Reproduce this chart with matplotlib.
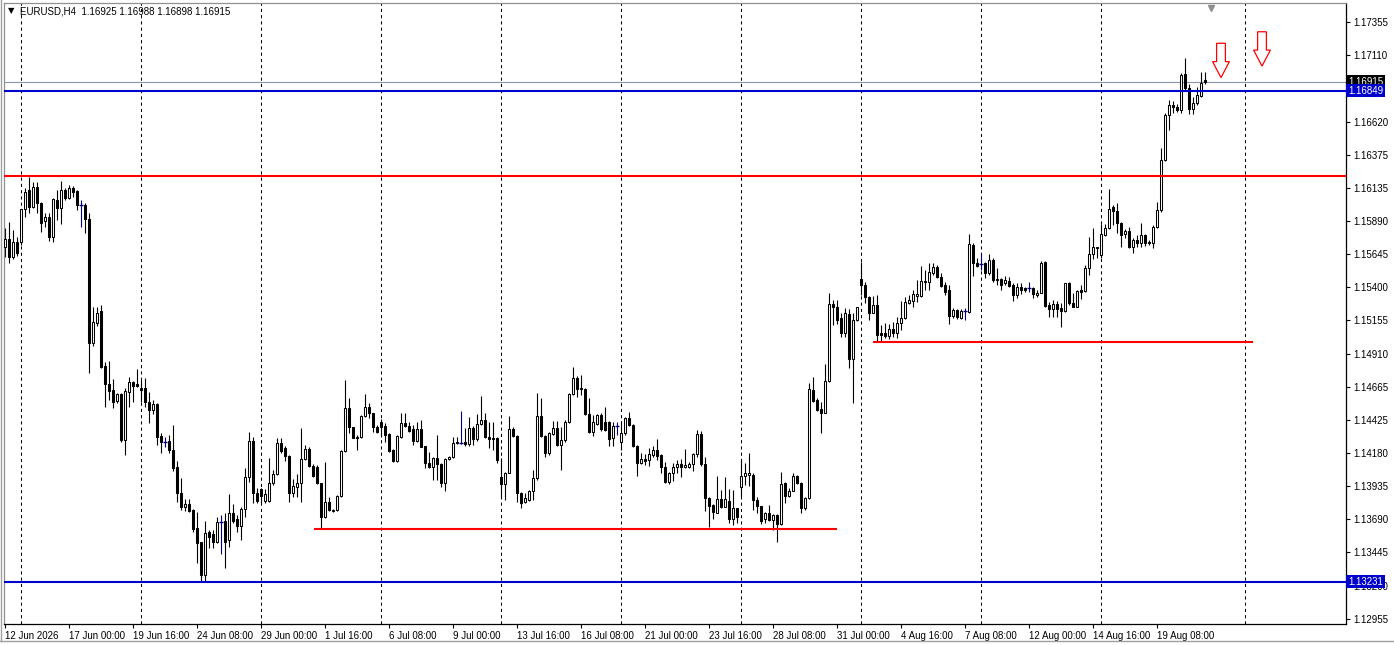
#!/usr/bin/env python

# Libraries

import numpy as np
import matplotlib
matplotlib.use("Agg")
import matplotlib.pyplot as plt
from matplotlib.patches import Polygon
from matplotlib.lines import Line2D

plt.rcParams["font.family"] = ["Liberation Sans", "DejaVu Sans"]

# Data: EURUSD H4 candles, prices in points (1e-5), bar 0 = 12 Jun 08:00

opens = [
    115699, 115753, 115621, 115736, 115736, 115975, 116117, 115994, 116141, 116023,
    115890, 115920, 115773, 116043, 115982, 116117, 116056, 116129, 116112, 116006,
    116006, 115901, 114991, 115139, 115223, 114820, 114685, 114643, 114562, 114613,
    114274, 114630, 114702, 114687, 114655, 114655, 114552, 114495, 114540, 114304,
    114257, 114269, 114201, 114073, 113881, 113783, 113802, 113758, 113623, 113525,
    113279, 113598, 113581, 113525, 113668, 113677, 113537, 113734, 113690, 113640,
    113763, 114004, 114267, 113886, 113913, 113825, 113825, 113955, 114024, 114254,
    114213, 114156, 113886, 113930, 113955, 114132, 114206, 114083, 114077, 113955,
    113705, 113820, 113751, 113758, 113862, 114195, 114508, 114368, 114299, 114294,
    114451, 114515, 114471, 114368, 114409, 114377, 114316, 114201, 114122, 114294,
    114402, 114377, 114353, 114269, 114353, 114230, 114103, 114073, 114139, 114095,
    113955, 114132, 114147, 114262, 114254, 114262, 114245, 114360, 114279, 114392,
    114422, 114299, 114289, 114289, 114004, 113950, 114033, 114353, 114304, 113881,
    113820, 113832, 113900, 113992, 114451, 114304, 114181, 114318, 114360, 114237,
    114274, 114409, 114613, 114729, 114655, 114648, 114466, 114335, 114392, 114458,
    114409, 114409, 114287, 114377, 114262, 114324, 114434, 114385, 114230, 114107,
    114134, 114127, 114164, 114201, 114164, 114073, 113967, 114033, 114073, 114097,
    114073, 114077, 114097, 114171, 114318, 114097, 113845, 113795, 113738, 113837,
    113783, 113827, 113690, 113771, 113930, 114009, 114016, 114016, 113832, 113790,
    113690, 113734, 113685, 113721, 113655, 113955, 113862, 113900, 114009, 113955,
    113771, 113845, 114643, 114569, 114500, 114475, 114711, 115277, 115252, 115171,
    115065, 115203, 114869, 115159, 115459, 115417, 115326, 115212, 115269, 115061,
    115065, 115041, 115090, 115065, 115134, 115171, 115286, 115301, 115338, 115338,
    115441, 115441, 115507, 115551, 115478, 115417, 115380, 115188, 115232, 115171,
    115227, 115220, 115711, 115581, 115571, 115577, 115503, 115601, 115461, 115459,
    115429, 115448, 115417, 115343, 115404, 115392, 115392, 115392, 115343, 115360,
    115586, 115269, 115238, 115277, 115245, 115227, 115429, 115286, 115257, 115380,
    115375, 115540, 115645, 115694, 115638, 115785, 115834, 115989, 115964, 115871,
    115792, 115815, 115699, 115748, 115728, 115785, 115736, 115724, 115842, 115969,
    116338, 116669, 116743, 116726, 116706, 116972, 116866, 116712, 116756, 116810,
    116925,
]
highs = [
    115834, 115883, 115822, 115773, 115977, 116129, 116210, 116178, 116178, 116030,
    115945, 115945, 116056, 116117, 116185, 116129, 116154, 116146, 116117, 116043,
    116019, 115947, 115257, 115257, 115269, 114851, 114859, 114722, 114623, 114623,
    114655, 114736, 114711, 114795, 114716, 114729, 114630, 114569, 114549, 114324,
    114299, 114311, 114385, 114119, 113992, 113837, 113837, 113763, 113746, 113525,
    113679, 113611, 113611, 113709, 113721, 113734, 113876, 113802, 113721, 113783,
    114066, 114333, 114299, 113918, 113918, 113913, 114139, 114053, 114287, 114287,
    114230, 114164, 113985, 114024, 114360, 114237, 114220, 114097, 114090, 113960,
    114110, 113852, 113763, 113869, 114201, 114716, 114582, 114372, 114311, 114458,
    114613, 114545, 114475, 114385, 114427, 114397, 114324, 114206, 114311, 114471,
    114475, 114409, 114385, 114409, 114422, 114230, 114188, 114147, 114311, 114103,
    114139, 114156, 114299, 114299, 114490, 114360, 114446, 114377, 114466, 114599,
    114471, 114409, 114409, 114299, 114139, 114041, 114451, 114372, 114309, 113893,
    113881, 113906, 114053, 114623, 114582, 114311, 114335, 114416, 114416, 114372,
    114422, 114623, 114814, 114746, 114753, 114655, 114582, 114458, 114466, 114475,
    114520, 114416, 114409, 114409, 114416, 114442, 114483, 114392, 114237, 114181,
    114171, 114213, 114230, 114279, 114171, 114114, 114041, 114107, 114127, 114132,
    114206, 114114, 114176, 114348, 114343, 114147, 113856, 113802, 114009, 113906,
    114004, 113911, 113906, 113775, 114132, 114103, 114176, 114029, 113856, 113790,
    113746, 113795, 113729, 113729, 114041, 113967, 113918, 114029, 114016, 113967,
    113853, 114697, 114741, 114582, 114557, 114834, 115355, 115306, 115306, 115208,
    115245, 115238, 115212, 115257, 115588, 115441, 115336, 115336, 115343, 115122,
    115134, 115129, 115146, 115183, 115301, 115330, 115343, 115380, 115453, 115557,
    115527, 115581, 115581, 115564, 115507, 115441, 115417, 115245, 115238, 115238,
    115245, 115792, 115724, 115613, 115655, 115588, 115645, 115613, 115540, 115466,
    115483, 115478, 115434, 115434, 115434, 115404, 115441, 115400, 115380, 115596,
    115596, 115294, 115306, 115301, 115282, 115434, 115441, 115355, 115380, 115417,
    115564, 115773, 115834, 115699, 115866, 115866, 116122, 116006, 116019, 115883,
    115827, 115846, 115761, 115785, 115871, 115792, 115748, 115859, 116030, 116424,
    116682, 116780, 116775, 116751, 116981, 117087, 116898, 116804, 116878, 116989,
    116988,
]
lows = [
    115625, 115581, 115606, 115630, 115711, 115920, 115949, 115982, 115949, 115809,
    115846, 115743, 115736, 115896, 115866, 116043, 116048, 116063, 115969, 115842,
    115798, 114770, 114967, 115114, 114803, 114520, 114569, 114508, 114549, 114262,
    114164, 114515, 114557, 114667, 114557, 114520, 114402, 114464, 114237, 114181,
    114220, 114176, 114046, 113820, 113758, 113753, 113746, 113598, 113370, 113237,
    113237, 113476, 113476, 113517, 113434, 113329, 113488, 113660, 113598, 113537,
    113709, 113967, 113810, 113808, 113808, 113808, 113817, 113942, 114016, 114176,
    114122, 113820, 113856, 113853, 113820, 114127, 114073, 114004, 113950, 113616,
    113699, 113749, 113746, 113753, 113856, 114188, 114324, 114287, 114201, 114287,
    114446, 114436, 114335, 114328, 114299, 114262, 114188, 114114, 114114, 114287,
    114368, 114335, 114237, 114262, 114220, 114066, 114066, 113979, 113979, 113926,
    113900, 114127, 114139, 114245, 114245, 114230, 114230, 114237, 114269, 114385,
    114287, 114213, 114201, 114103, 113845, 113832, 114029, 114299, 113820, 113771,
    113808, 113827, 113832, 113979, 114299, 114151, 114164, 114311, 114230, 114053,
    114262, 114402, 114606, 114593, 114606, 114458, 114328, 114304, 114385, 114343,
    114343, 114230, 114230, 114311, 114201, 114311, 114377, 114225, 114009, 114097,
    114090, 114083, 114151, 114127, 114033, 113955, 113950, 113974, 114033, 113999,
    114066, 114066, 114048, 114151, 114083, 113753, 113635, 113690, 113734, 113771,
    113778, 113665, 113648, 113665, 113853, 113942, 113935, 113758, 113734, 113655,
    113665, 113679, 113611, 113525, 113648, 113812, 113853, 113900, 113950, 113738,
    113758, 113837, 114557, 114490, 114328, 114471, 114704, 115122, 115129, 115031,
    115031, 114803, 114545, 115153, 115343, 115286, 115159, 115208, 114999, 114999,
    115024, 115016, 115036, 115024, 115085, 115164, 115277, 115252, 115294, 115330,
    115380, 115380, 115490, 115466, 115400, 115343, 115129, 115171, 115164, 115164,
    115159, 115212, 115483, 115551, 115527, 115466, 115490, 115441, 115417, 115380,
    115417, 115400, 115301, 115319, 115350, 115367, 115367, 115319, 115330, 115355,
    115257, 115179, 115183, 115183, 115105, 115220, 115269, 115252, 115252, 115311,
    115367, 115490, 115606, 115616, 115616, 115778, 115827, 115859, 115798, 115699,
    115761, 115687, 115650, 115699, 115699, 115704, 115711, 115687, 115834, 115957,
    116333, 116559, 116682, 116694, 116682, 116854, 116677, 116677, 116743, 116804,
    116898,
]
closes = [
    115753, 115621, 115736, 115655, 115975, 116104, 115994, 116141, 116019, 115876,
    115920, 115773, 116048, 115982, 116117, 116056, 116129, 116104, 116006, 116006,
    115901, 114991, 115144, 115212, 114814, 114685, 114638, 114557, 114611, 114274,
    114638, 114702, 114672, 114672, 114643, 114552, 114495, 114537, 114299, 114262,
    114257, 114201, 114070, 113881, 113783, 113802, 113753, 113616, 113517, 113279,
    113587, 113562, 113525, 113668, 113668, 113525, 113734, 113679, 113643, 113763,
    114004, 114267, 113886, 113827, 113862, 113876, 113955, 114024, 114254, 114195,
    114156, 113881, 113935, 113955, 114132, 114206, 114083, 114009, 113955, 113705,
    113815, 113758, 113758, 113862, 114195, 114508, 114368, 114291, 114291, 114451,
    114515, 114471, 114368, 114335, 114372, 114311, 114195, 114122, 114304, 114402,
    114377, 114343, 114269, 114353, 114225, 114103, 114073, 114139, 114095, 113955,
    114132, 114147, 114250, 114250, 114254, 114245, 114360, 114279, 114392, 114422,
    114294, 114282, 114279, 114127, 113950, 114033, 114353, 114304, 113881, 113808,
    113847, 113900, 113992, 114451, 114304, 114181, 114328, 114360, 114237, 114274,
    114409, 114613, 114729, 114648, 114648, 114466, 114335, 114409, 114458, 114353,
    114348, 114279, 114377, 114377, 114324, 114434, 114385, 114230, 114107, 114132,
    114122, 114171, 114201, 114156, 114073, 113967, 114029, 114077, 114097, 114073,
    114090, 114097, 114171, 114318, 114097, 113845, 113788, 113746, 113837, 113783,
    113837, 113690, 113771, 113705, 114009, 114029, 114029, 113832, 113790, 113679,
    113734, 113685, 113721, 113655, 113950, 113862, 113900, 114009, 113955, 113771,
    113845, 114648, 114564, 114495, 114471, 114711, 115277, 115252, 115159, 115065,
    115208, 114869, 115159, 115252, 115417, 115326, 115212, 115269, 115048, 115048,
    115041, 115090, 115065, 115134, 115171, 115294, 115306, 115350, 115350, 115448,
    115448, 115515, 115551, 115478, 115409, 115367, 115188, 115232, 115179, 115227,
    115227, 115719, 115577, 115557, 115571, 115503, 115601, 115453, 115457, 115417,
    115453, 115409, 115343, 115400, 115380, 115380, 115392, 115348, 115360, 115577,
    115262, 115238, 115277, 115240, 115227, 115429, 115282, 115257, 115372, 115367,
    115540, 115645, 115694, 115687, 115792, 115834, 115975, 115964, 115871, 115785,
    115815, 115699, 115748, 115728, 115785, 115728, 115724, 115842, 115969, 116338,
    116669, 116743, 116726, 116706, 116964, 116866, 116712, 116760, 116817, 116908,
    116915,
]

# price scale and time labels

price_ticks = [1.17355, 1.17110, 1.16865, 1.16620, 1.16375, 1.16135, 1.15890,
               1.15645, 1.15400, 1.15155, 1.14910, 1.14665, 1.14425, 1.14180,
               1.13935, 1.13690, 1.13445, 1.13200, 1.12955]
hidden_ticks = [1.16865]  # covered by the price tags on the scale
time_labels = ["12 Jun 2026", "17 Jun 00:00", "19 Jun 16:00", "24 Jun 08:00",
               "29 Jun 00:00", "1 Jul 16:00", "6 Jul 08:00", "9 Jul 00:00",
               "13 Jul 16:00", "16 Jul 08:00", "21 Jul 00:00", "23 Jul 16:00",
               "28 Jul 08:00", "31 Jul 00:00", "4 Aug 16:00", "7 Aug 08:00",
               "12 Aug 00:00", "14 Aug 16:00", "19 Aug 08:00"]
time_label_bars = [0, 16, 32, 48, 64, 80, 96, 112, 128, 144, 160, 176,
                   192, 208, 224, 240, 256, 272, 288]
week_start_bars = [4, 34, 64, 94, 124, 154, 184, 214, 244, 274, 310]

# drawn levels (price, and bar span for the short ones)

blue_levels = [1.16849, 1.13231]
red_level_full = 1.16220
red_segments = [(1.13618, 77.25, 208.0), (1.14996, 217.0, 312.0)]
arrow_bars = [304.0, 314.25]
arrow_tips = [1.16945, 1.17030]

o = np.array(opens) / 1e5
h = np.array(highs) / 1e5
l = np.array(lows) / 1e5
c = np.array(closes) / 1e5
idx = np.arange(len(o))

bull = c > o
bear = c < o
doji = c == o

# figure

fig = plt.figure(figsize=(13.94, 6.45), dpi=100)
ax = fig.add_axes([4 / 1394, 1 - 624 / 645, 1342 / 1394, 621 / 645])
ax.set_xlim(-0.25, 335.25)
ax.set_ylim(1.12918, 1.17495)

# weekly dashed grid

for b in week_start_bars:
    ax.axvline(b, color="black", linestyle=(0, (3, 3)), linewidth=0.75, zorder=1)

# candles

ax.vlines(idx[~doji], l[~doji], h[~doji], color="black", linewidth=0.8, zorder=2)
ax.vlines(idx[doji], l[doji], h[doji], color="#000080", linewidth=0.8, zorder=2)
ax.bar(idx[bull], (c - o)[bull], bottom=o[bull], width=0.55,
       facecolor="white", edgecolor="black", linewidth=0.75, zorder=3)
ax.bar(idx[bear], (o - c)[bear], bottom=c[bear], width=0.55,
       facecolor="black", edgecolor="black", linewidth=0.75, zorder=3)
ax.hlines(o[doji], idx[doji] - 0.45, idx[doji] + 0.45, color="#000080",
          linewidth=1.0, zorder=3)

# levels

ax.axhline(c[-1], color="#8595a5", linewidth=0.8, zorder=1.5)
for lv in blue_levels:
    ax.axhline(lv, color="#0000cc", linewidth=1.5, zorder=4)
ax.axhline(red_level_full, color="red", linewidth=1.5, zorder=4)
for lv, x0, x1 in red_segments:
    ax.hlines(lv, x0, x1, color="red", linewidth=1.5, zorder=4)

# hollow down arrows

shaft_len, head_len = 0.00135, 0.00118
shaft_hw, head_hw = 1.1, 2.1
for xb, tip in zip(arrow_bars, arrow_tips):
    neck = tip + head_len
    top = neck + shaft_len
    pts = [(xb - shaft_hw, top), (xb + shaft_hw, top), (xb + shaft_hw, neck),
           (xb + head_hw, neck), (xb, tip), (xb - head_hw, neck),
           (xb - shaft_hw, neck)]
    ax.add_patch(Polygon(pts, closed=True, facecolor="none", edgecolor="red",
                         linewidth=0.9, zorder=5))

# chart shift marker
ax.plot([301.5], [0.992], marker="v", markersize=5, color="#909090",
        transform=ax.get_xaxis_transform(), clip_on=False, zorder=6)

# axes styling

ax.yaxis.tick_right()
ax.set_yticks(price_ticks)
ax.set_yticklabels(["" if p in hidden_ticks else f"{p:.5f}" for p in price_ticks])
ax.tick_params(axis="y", labelsize=7, length=3, width=0.8, pad=2, direction="out")
ax.set_xticks(time_label_bars)
ax.set_xticklabels(time_labels)
for lbl in ax.get_xticklabels():
    lbl.set_ha("left")
ax.tick_params(axis="x", labelsize=7, length=3, width=0.8, pad=2, direction="out")

for side in ["right", "bottom"]:
    ax.spines[side].set_color("black")
    ax.spines[side].set_linewidth(0.9)
for side in ["left", "top"]:
    ax.spines[side].set_color("#909090")
    ax.spines[side].set_linewidth(0.9)

# price tags on the right scale

ytr = ax.get_yaxis_transform()
tag_x = 1.0 + 2 / 1342
ax.text(tag_x, c[-1], f"{c[-1]:.5f}", transform=ytr, fontsize=7, color="white",
        ha="left", va="center", clip_on=False, zorder=10,
        bbox=dict(boxstyle="square,pad=0.18", facecolor="black", edgecolor="none"))
for lv in blue_levels:
    ax.text(tag_x, lv, f"{lv:.5f}", transform=ytr, fontsize=7, color="white",
            ha="left", va="center", clip_on=False, zorder=11,
            bbox=dict(boxstyle="square,pad=0.18", facecolor="#0000cc", edgecolor="none"))

# header

fig.text(8 / 1394, 1 - 11 / 645, "\u25BC", fontsize=6, color="black",
         ha="left", va="center", family="DejaVu Sans")
fig.text(20 / 1394, 1 - 11 / 645,
         f"EURUSD,H4  {o[-1]:.5f} {h[-1]:.5f} {l[-1]:.5f} {c[-1]:.5f}",
         fontsize=7, color="black", ha="left", va="center")

# window frame
fig.add_artist(Line2D([0, 1], [1 - 641 / 645] * 2, color="#a0a0a0", linewidth=1))
fig.add_artist(Line2D([1 / 1394] * 2, [1 - 641 / 645, 1], color="#a0a0a0", linewidth=1))

plt.savefig("out.png", dpi=100, facecolor="white")
